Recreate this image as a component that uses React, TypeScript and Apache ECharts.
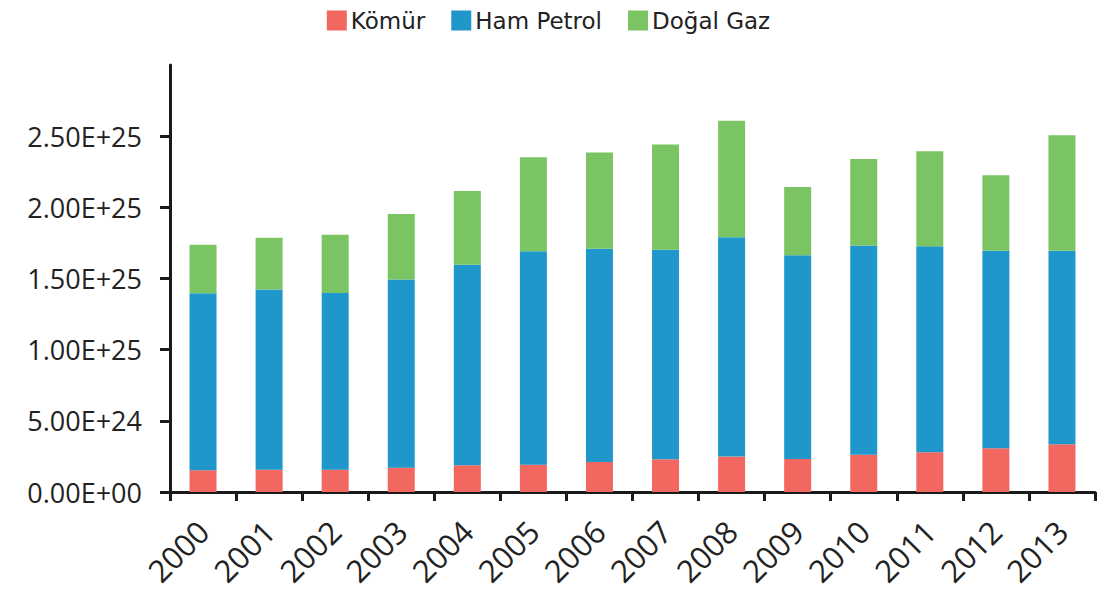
import React, { useEffect, useRef } from "react";
import * as echarts from "echarts";

const years = ["2000","2001","2002","2003","2004","2005","2006","2007","2008","2009","2010","2011","2012","2013"];
const komur = [1.53e24,1.57e24,1.57e24,1.71e24,1.88e24,1.92e24,2.11e24,2.30e24,2.49e24,2.32e24,2.61e24,2.80e24,3.08e24,3.36e24];
const hamPetrol = [12.43e24,12.66e24,12.42e24,13.22e24,14.08e24,15.0e24,14.98e24,14.72e24,15.4e24,14.32e24,14.71e24,14.47e24,13.87e24,13.59e24];
const dogalGaz = [3.41e24,3.64e24,4.09e24,4.6e24,5.19e24,6.6e24,6.76e24,7.4e24,8.19e24,4.79e24,6.08e24,6.67e24,5.3e24,8.12e24];
const yTicks = [0, 5e24, 1e25, 1.5e25, 2e25, 2.5e25];
const yMax = 3e25;

const seriesNames = ["Kömür", "Ham Petrol", "Doğal Gaz"];
const colors = ["#F2675F", "#1F97CB", "#7BC463"];

function fmt(v: number): string {
  const s = v.toExponential(2);
  const [m, e] = s.split("e");
  const sign = e[0] === "-" ? "-" : "+";
  const digits = e.replace(/[+-]/, "").padStart(2, "0");
  return `${m}E${sign}${digits}`;
}

const AXIS_FONT = "Open Sans";
const LEGEND_FONT = "DejaVu Sans";

export default function App() {
  const ref = useRef<HTMLDivElement>(null);
  useEffect(() => {
    if (!ref.current) return;
    const chart = echarts.init(ref.current, undefined, { renderer: "svg" });
    const data = [komur, hamPetrol, dogalGaz];
    chart.setOption({
      animation: false,
      color: colors,
      legend: {
        data: seriesNames,
        top: 4,
        left: "center",
        itemWidth: 20,
        itemHeight: 20,
        itemGap: 26,
        icon: "rect",
        textStyle: { fontFamily: LEGEND_FONT, fontSize: 23, color: "#222", padding: [0, 0, 0, -1] },
      },
      grid: { left: 170, right: 2, top: 65, bottom: 99, containLabel: false },
      xAxis: {
        type: "category",
        data: years,
        boundaryGap: true,
        axisLine: { show: true, lineStyle: { color: "#1a1a1a", width: 3 } },
        axisTick: { show: true, alignWithLabel: false, length: 9, lineStyle: { color: "#1a1a1a", width: 3 } },
        axisLabel: {
          rotate: 45,
          fontFamily: AXIS_FONT,
          fontSize: 31,
          color: "#222",
          margin: 34,
          interval: 0,
        },
      },
      yAxis: {
        type: "value",
        min: 0,
        max: yMax,
        interval: 5e24,
        splitLine: { show: false },
        axisLine: { show: true, lineStyle: { color: "#1a1a1a", width: 3 } },
        axisTick: { show: true, length: 10, lineStyle: { color: "#1a1a1a", width: 3 }, customValues: yTicks },
        axisLabel: {
          fontFamily: AXIS_FONT,
          fontSize: 27,
          color: "#222",
          margin: 28,
          customValues: yTicks,
          formatter: (v: number) => (v > 2.6e25 ? "" : fmt(v)),
        },
      },
      series: seriesNames.map((name, i) => ({
        name,
        type: "bar",
        stack: "total",
        barWidth: 27,
        data: data[i],
        itemStyle: { color: colors[i] },
      })),
    });
    return () => chart.dispose();
  }, []);
  return (
    <div
      ref={ref}
      style={{ position: "fixed", left: 0, top: 0, width: 1097, height: 591, background: "#fff" }}
    />
  );
}
